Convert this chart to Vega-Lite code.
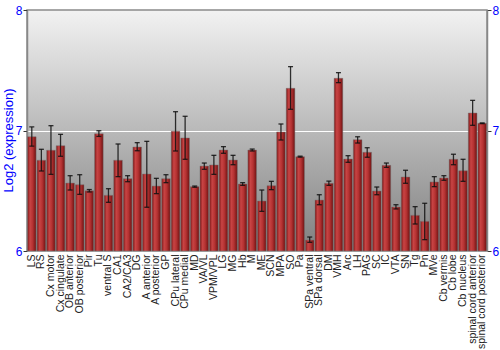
{
  "$schema": "https://vega.github.io/schema/vega-lite/v6.json",
  "autosize": "none",
  "width": 460,
  "height": 241,
  "padding": {"left": 27, "top": 10, "right": 13, "bottom": 99},
  "background": "white",
  "config": {
    "font": "Liberation Sans",
    "view": {"stroke": "#8a8a8a", "strokeWidth": 1.5,
      "fill": {"gradient": "linear", "x1": 0, "y1": 0, "x2": 0, "y2": 1,
        "stops": [{"offset": 0, "color": "#f2f2f2"}, {"offset": 1, "color": "#808080"}]}}
  },
  "resolve": {"axis": {"y": "independent"}},
  "data": {"values": [
    {"name": "LS", "v": 6.949, "lo": 6.87, "hi": 7.03},
    {"name": "RS", "v": 6.753, "lo": 6.664, "hi": 6.844},
    {"name": "Cx motor", "v": 6.836, "lo": 6.636, "hi": 7.04},
    {"name": "Cx cingulate", "v": 6.874, "lo": 6.786, "hi": 6.968},
    {"name": "OB anterior", "v": 6.564, "lo": 6.506, "hi": 6.625},
    {"name": "OB posterior", "v": 6.55, "lo": 6.47, "hi": 6.633},
    {"name": "Pir", "v": 6.5, "lo": 6.49, "hi": 6.51},
    {"name": "Tu", "v": 6.973, "lo": 6.951, "hi": 6.998},
    {"name": "ventral S", "v": 6.462, "lo": 6.404, "hi": 6.517},
    {"name": "CA1", "v": 6.753, "lo": 6.617, "hi": 6.888},
    {"name": "CA2/CA3", "v": 6.6, "lo": 6.575, "hi": 6.625},
    {"name": "DG", "v": 6.863, "lo": 6.832, "hi": 6.899},
    {"name": "A anterior", "v": 6.639, "lo": 6.363, "hi": 6.91},
    {"name": "A posterior", "v": 6.539, "lo": 6.476, "hi": 6.603},
    {"name": "GP", "v": 6.6, "lo": 6.567, "hi": 6.633},
    {"name": "CPu lateral", "v": 6.994, "lo": 6.83, "hi": 7.156},
    {"name": "CPu medial", "v": 6.938, "lo": 6.761, "hi": 7.118},
    {"name": "MD", "v": 6.534, "lo": 6.529, "hi": 6.539},
    {"name": "VA/VL", "v": 6.705, "lo": 6.678, "hi": 6.73},
    {"name": "VPM/VPL", "v": 6.714, "lo": 6.636, "hi": 6.794},
    {"name": "LG", "v": 6.838, "lo": 6.811, "hi": 6.866},
    {"name": "MG", "v": 6.755, "lo": 6.716, "hi": 6.794},
    {"name": "Hb", "v": 6.556, "lo": 6.545, "hi": 6.567},
    {"name": "M", "v": 6.838, "lo": 6.83, "hi": 6.846},
    {"name": "ME", "v": 6.415, "lo": 6.329, "hi": 6.506},
    {"name": "SCN", "v": 6.542, "lo": 6.509, "hi": 6.578},
    {"name": "MPA", "v": 6.988, "lo": 6.921, "hi": 7.054},
    {"name": "SO", "v": 7.35, "lo": 7.176, "hi": 7.53},
    {"name": "Pa", "v": 6.783, "lo": 6.779, "hi": 6.787},
    {"name": "SPa ventral", "v": 6.091, "lo": 6.072, "hi": 6.116},
    {"name": "SPa dorsal", "v": 6.423, "lo": 6.384, "hi": 6.467},
    {"name": "DM", "v": 6.562, "lo": 6.545, "hi": 6.58},
    {"name": "VMH", "v": 7.433, "lo": 7.397, "hi": 7.48},
    {"name": "Arc", "v": 6.763, "lo": 6.736, "hi": 6.791},
    {"name": "LH", "v": 6.924, "lo": 6.896, "hi": 6.948},
    {"name": "PAG", "v": 6.819, "lo": 6.778, "hi": 6.857},
    {"name": "SC", "v": 6.498, "lo": 6.467, "hi": 6.531},
    {"name": "IC", "v": 6.711, "lo": 6.694, "hi": 6.73},
    {"name": "VTA", "v": 6.365, "lo": 6.349, "hi": 6.384},
    {"name": "SN", "v": 6.614, "lo": 6.562, "hi": 6.67},
    {"name": "Tg", "v": 6.296, "lo": 6.224, "hi": 6.368},
    {"name": "Pn", "v": 6.246, "lo": 6.094, "hi": 6.396},
    {"name": "MVe", "v": 6.573, "lo": 6.534, "hi": 6.617},
    {"name": "Cb vermis", "v": 6.606, "lo": 6.587, "hi": 6.625},
    {"name": "Cb lobe", "v": 6.761, "lo": 6.716, "hi": 6.803},
    {"name": "Cb nucleus", "v": 6.666, "lo": 6.578, "hi": 6.761},
    {"name": "spinal cord anterior", "v": 7.145, "lo": 7.043, "hi": 7.25},
    {"name": "spinal cord posterior", "v": 7.06, "lo": 7.057, "hi": 7.063}
  ]},
  "encoding": {
    "x": {"field": "name", "type": "nominal", "sort": null,
      "scale": {"paddingInner": 0.1, "paddingOuter": 0.05},
      "axis": {"title": null, "labelAngle": 270, "domain": false, "ticks": false,
        "labelPadding": 3, "labelFontSize": 10.5, "labelColor": "#222", "labelFont": "Liberation Sans"}}
  },
  "layer": [
    {
      "mark": {"type": "bar", "stroke": "#777", "strokeWidth": 0.8, "strokeOpacity": 0.6,
        "color": {"gradient": "linear", "x1": 0, "y1": 0, "x2": 1, "y2": 0,
          "stops": [{"offset": 0, "color": "#7e1717"}, {"offset": 0.3, "color": "#c84444"}, {"offset": 0.6, "color": "#b53232"}, {"offset": 1, "color": "#6e1212"}]}},
      "encoding": {
        "y": {"field": "v", "type": "quantitative",
          "scale": {"domain": [6, 8], "nice": false, "zero": false},
          "axis": {"orient": "left", "tickCount": 2, "format": "d", "labelOverlap": false,
            "grid": true, "gridColor": "white", "gridWidth": 1.2,
            "gridOpacity": {"condition": {"test": "datum.value > 6.5 && datum.value < 7.5", "value": 1}, "value": 0},
            "title": "Log2 (expression)",
            "titleColor": "#0000ff", "titleFontSize": 13, "titleFontWeight": "normal",
            "titleAngle": 270, "titleX": -19, "titleY": 130, "titleAlign": "center", "titleBaseline": "middle",
            "labelColor": "#0000ff", "labelFontSize": 12, "domainColor": "#888", "domainWidth": 1.5,
            "tickColor": "#333", "tickSize": 4, "labelPadding": 1}},
        "y2": {"datum": 6}
      }
    },
    {
      "mark": {"type": "rule", "color": "#111", "strokeWidth": 1.3, "opacity": 0.85},
      "encoding": {
        "y": {"field": "lo", "type": "quantitative",
          "axis": {"orient": "right", "tickCount": 2, "format": "d", "labelOverlap": false,
            "grid": false, "title": null,
            "labelColor": "#0000ff", "labelFontSize": 12, "domainColor": "#888", "domainWidth": 1.5,
            "tickColor": "#333", "tickSize": 4, "labelPadding": 1}},
        "y2": {"field": "hi"}
      }
    },
    {
      "mark": {"type": "tick", "color": "#111", "thickness": 1.3, "size": 5, "opacity": 0.85},
      "encoding": {"y": {"field": "lo", "type": "quantitative", "axis": null}}
    },
    {
      "mark": {"type": "tick", "color": "#111", "thickness": 1.3, "size": 5, "opacity": 0.85},
      "encoding": {"y": {"field": "hi", "type": "quantitative", "axis": null}}
    }
  ]
}
